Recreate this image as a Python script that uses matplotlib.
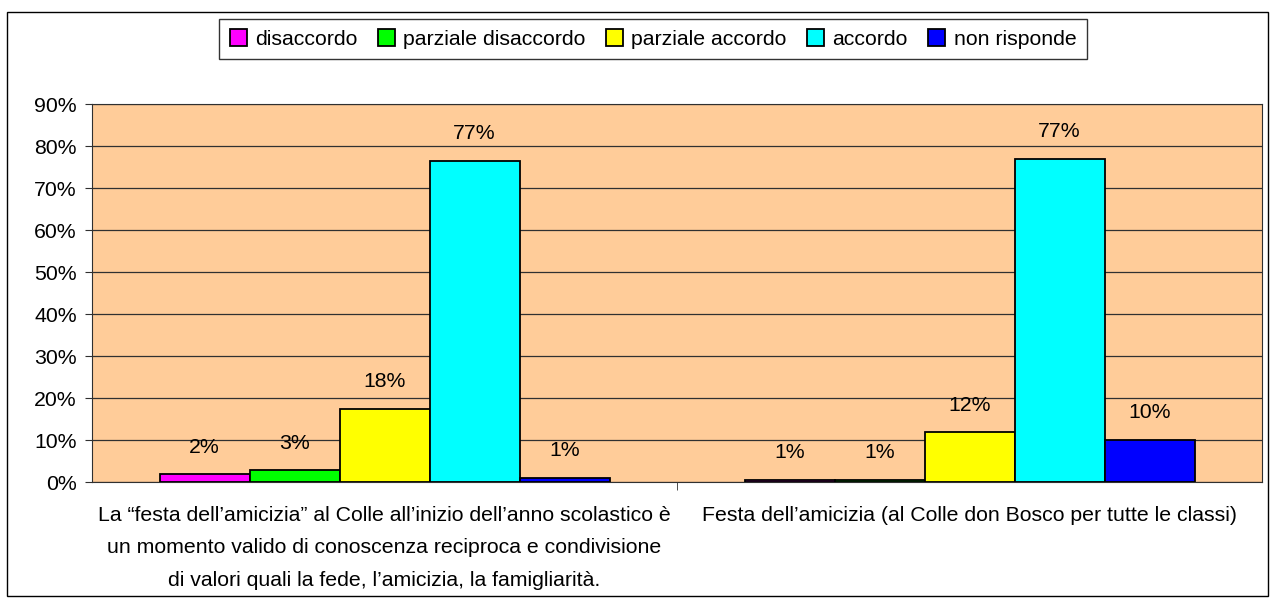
import numpy as np
import matplotlib.pyplot as plt
from matplotlib.patches import Rectangle

plt.rcParams['font.family'] = ['Liberation Sans', 'DejaVu Sans']

categories = [
    "La \u201cfesta dell\u2019amicizia\u201d al Colle all\u2019inizio dell\u2019anno scolastico \u00e8\n"
    "un momento valido di conoscenza reciproca e condivisione\n"
    "di valori quali la fede, l\u2019amicizia, la famigliarit\u00e0.",
    "Festa dell\u2019amicizia (al Colle don Bosco per tutte le classi)",
]
series = ["disaccordo", "parziale disaccordo", "parziale accordo", "accordo", "non risponde"]
values = [
    [1.8, 0.5],
    [2.8, 0.5],
    [17.5, 11.8],
    [76.5, 77.0],
    [1.0, 10.0],
]
labels = [
    ["2%", "1%"],
    ["3%", "1%"],
    ["18%", "12%"],
    ["77%", "77%"],
    ["1%", "10%"],
]
colors = ["#FF00FF", "#00FF00", "#FFFF00", "#00FFFF", "#0000FF"]

fs = 15.3

fig = plt.figure(figsize=(12.73, 6.08), dpi=100)
fig.patches.append(Rectangle((7 / 1273, 1 - 596 / 608), 1261 / 1273, 584 / 608,
                             transform=fig.transFigure, fill=False,
                             edgecolor="black", linewidth=1))
ax = fig.add_axes([92 / 1273, 1 - 482 / 608, (1262 - 92) / 1273, (482 - 104) / 608])
ax.set_facecolor("#FFCC99")

x = np.arange(len(categories))
w = 1 / 6.5
for i, (name, vals, col) in enumerate(zip(series, values, colors)):
    pos = x - 2 * w + i * w
    ax.bar(pos, vals, width=w, color=col, edgecolor="black", linewidth=1.3,
           label=name, zorder=3)
    for px, v, lab in zip(pos, vals, labels[i]):
        ax.annotate(lab, (px, v), xytext=(0, 19.5), textcoords="offset points",
                    ha="center", va="center", fontsize=fs)

ax.set_xlim(-0.5, 1.5)
ax.set_ylim(0, 90)
ax.set_yticks(np.arange(0, 91, 10))
ax.set_yticklabels([f"{t}%" for t in range(0, 91, 10)], fontsize=fs)
ax.yaxis.grid(True, color="#303030", linewidth=0.9, zorder=0)
ax.set_xticks([0.5], minor=True)
ax.set_xticks(x)
ax.set_xticklabels(categories, fontsize=fs, linespacing=1.92, va="top")
ax.tick_params(axis="x", which="major", length=0, pad=17)
ax.tick_params(axis="x", which="minor", length=6, color="#303030")
ax.tick_params(axis="y", length=5, color="#303030", pad=6)
for s in ax.spines.values():
    s.set_color("#303030")

leg = fig.legend(loc="center", bbox_to_anchor=(653 / 1273, 1 - 39 / 608), ncol=5,
                 fontsize=fs, frameon=True, fancybox=False, handlelength=0.8,
                 handleheight=0.8, handletextpad=0.4, columnspacing=0.95,
                 borderpad=0.5, borderaxespad=0)
leg.get_frame().set_edgecolor("black")
leg.get_frame().set_linewidth(1)

fig.savefig("out.png", dpi=100)
